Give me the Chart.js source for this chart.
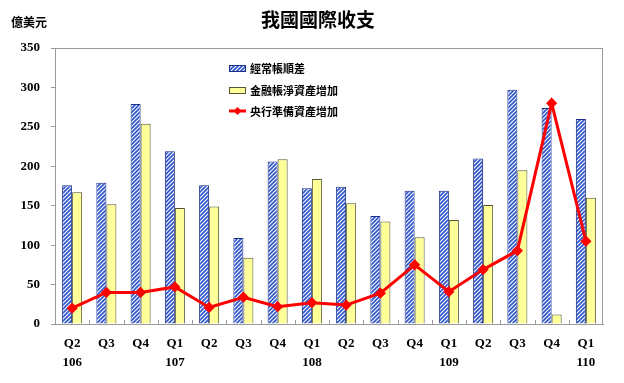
<!DOCTYPE html>
<html><head><meta charset="utf-8">
<script src="https://cdn.jsdelivr.net/npm/chart.js@4/dist/chart.umd.min.js"></script>
<style>html,body{margin:0;padding:0;background:#fff}#wrap{width:624px;height:383px}</style>
</head><body><div id="wrap"><canvas id="c" width="624" height="383"></canvas></div>
<script>
const quarters = ['Q2','Q3','Q4','Q1','Q2','Q3','Q4','Q1','Q2','Q3','Q4','Q1','Q2','Q3','Q4','Q1'];
const years    = ['106','','','107','','','','108','','','','109','','','','110'];
const currentAccount   = [176,179,279,219,176,109,206,172,174,137,169,169,210,297,274,260];
const financialNet     = [167,152,254,147,149,84,209,184,153,130,110,132,151,195,12,160];
const reserveIncrease  = [20,40,40,47,21,34,22,27,24,39,75,41,69,93,280,105];
const seriesNames = ['經常帳順差','金融帳淨資產增加','央行準備資產增加'];
const yTicks = [0,50,100,150,200,250,300,350];

const labels = quarters.map((q,i)=> years[i] ? [q, years[i]] : [q]);
const canvas = document.getElementById('c');
const ctx0 = canvas.getContext('2d');
const P = 4;
const pc = document.createElement('canvas'); pc.width=P; pc.height=P;
const px = pc.getContext('2d');
px.fillStyle='#ffffff'; px.fillRect(0,0,P,P);
px.strokeStyle='#2f56cc'; px.lineWidth=1.7;
px.beginPath();
for (let k=-1;k<=1;k++){ px.moveTo(k*P-1, P+1); px.lineTo(k*P+P+1, -1); }
px.stroke();
const hatch = ctx0.createPattern(pc,'repeat');

const serif = '"Liberation Serif", "Times New Roman", serif';
const cjk = '"Noto Sans CJK TC", "Noto Sans CJK SC", sans-serif';

const extras = {
  id:'extras',
  beforeDatasetsDraw(chart){
    const {ctx, chartArea:a} = chart;
    ctx.save(); ctx.strokeStyle='#9a9a9a'; ctx.lineWidth=1;
    ctx.strokeRect(a.left+0.5, a.top+0.5, a.right-a.left-1, a.bottom-a.top);
    // x tick marks at category boundaries, pointing inward
    const n = quarters.length, w = (a.right-a.left)/n;
    ctx.beginPath();
    for (let i=1;i<n;i++){ const x=Math.round(a.left+i*w)+0.5; ctx.moveTo(x,a.bottom); ctx.lineTo(x,a.bottom-4); }
    ctx.stroke();
    ctx.restore();
  },
  afterDraw(chart){
    const {ctx} = chart;
    ctx.save();
    ctx.fillStyle='#000'; ctx.textBaseline='middle';
    ctx.font='bold 19px '+cjk; ctx.textAlign='center';
    ctx.fillText('我國國際收支', 318, 20);
    ctx.font='bold 12px '+cjk; ctx.textAlign='left';
    ctx.fillText('億美元', 11, 22);
    // legend
    const lx=229, rows=[68,90,111];
    ctx.font='bold 11px '+cjk;
    ctx.fillStyle=hatch; ctx.fillRect(lx, rows[0]-3, 16, 7);
    ctx.strokeStyle='#1a2f8a'; ctx.lineWidth=1; ctx.strokeRect(lx+0.5, rows[0]-3+0.5, 16, 6);
    ctx.fillStyle='#ffff99'; ctx.fillRect(lx, rows[1]-3, 16, 7);
    ctx.strokeStyle='#555533'; ctx.strokeRect(lx+0.5, rows[1]-3+0.5, 16, 6);
    ctx.strokeStyle='#ff0000'; ctx.lineWidth=3; ctx.beginPath(); ctx.moveTo(lx, rows[2]); ctx.lineTo(lx+17, rows[2]); ctx.stroke();
    ctx.fillStyle='#ff0000'; ctx.beginPath(); const cx=lx+8.5, cy=rows[2];
    ctx.moveTo(cx,cy-4); ctx.lineTo(cx+4,cy); ctx.lineTo(cx,cy+4); ctx.lineTo(cx-4,cy); ctx.closePath(); ctx.fill();
    ctx.fillStyle='#000';
    seriesNames.forEach((n,i)=>ctx.fillText(n, lx+21, rows[i]+1));
    ctx.restore();
  }
};

new Chart(canvas, {
  type:'bar',
  data:{
    labels,
    datasets:[
      {type:'line', label:seriesNames[2], data:reserveIncrease, borderColor:'#ff0000', borderWidth:3,
       pointStyle:'rectRot', pointRadius:3.5, pointBackgroundColor:'#ff0000', pointBorderColor:'#ff0000', tension:0, order:0},
      {label:seriesNames[0], data:currentAccount, backgroundColor:hatch, borderColor:'#1a2f8a', borderWidth:1,
       categoryPercentage:0.585, barPercentage:1, order:1},
      {label:seriesNames[1], data:financialNet, backgroundColor:'#ffff99', borderColor:'#555533', borderWidth:1,
       categoryPercentage:0.585, barPercentage:1, order:1}
    ]
  },
  options:{
    responsive:false, animation:false,
    layout:{padding:{left:0,right:21,top:48,bottom:0}},
    plugins:{legend:{display:false}, title:{display:false}, tooltip:{enabled:false}},
    scales:{
      x:{
        grid:{offset:true, drawOnChartArea:false, drawTicks:false},
        border:{display:true, color:'#9a9a9a'},
        ticks:{font:{family:serif, size:13, weight:'bold', lineHeight:1.45}, color:'#000', padding:10, maxRotation:0, autoSkip:false},
        afterFit(s){ s.height = 59; }
      },
      y:{
        min:0, max:350,
        afterBuildTicks(s){ s.ticks = yTicks.map(v=>({value:v})); },
        grid:{drawOnChartArea:false, drawTicks:true, tickLength:4, color:'#9a9a9a'},
        border:{display:true, color:'#9a9a9a'},
        ticks:{font:{family:serif, size:13, weight:'bold'}, color:'#000', padding:11},
        afterFit(s){ s.width = 55; }
      }
    }
  },
  plugins:[extras]
});
</script>
</body></html>
